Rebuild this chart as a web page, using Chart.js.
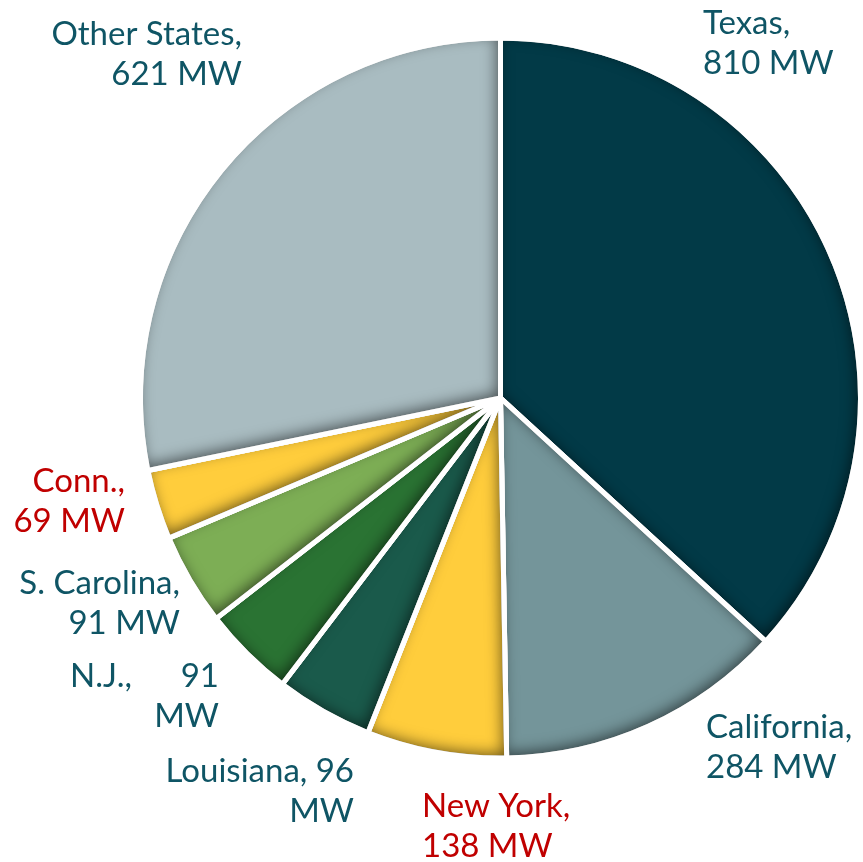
<!DOCTYPE html>
<html>
<head>
<meta charset="utf-8">
<script src="https://cdn.jsdelivr.net/npm/chart.js@4/dist/chart.umd.min.js"></script>
<style>
  html, body { margin: 0; padding: 0; background: #fff; }
  #wrap { width: 863px; height: 862px; }
</style>
</head>
<body>
<div id="wrap"><canvas id="pie" width="863" height="862"></canvas></div>
<script>
// capacity by state, clockwise from 12 o'clock
const STATES   = ['Texas', 'California', 'New York', 'Louisiana', 'N.J.', 'S. Carolina', 'Conn.', 'Other States'];
const MW       = [810, 284, 138, 96, 91, 91, 69, 621];
const COLORS   = ['#023a47', '#74959a', '#ffcd3c', '#1a5a4b', '#2a7333', '#7dae55', '#ffcd3c', '#a9bcc1'];
const LABEL_LINES = [
  ['Texas,', '810 MW'],
  ['California,', '284 MW'],
  ['New York,', '138 MW'],
  ['Louisiana, 96', 'MW'],
  ['91', 'MW'],
  ['S. Carolina,', '91 MW'],
  ['Conn.,', '69 MW'],
  ['Other States,', '621 MW'],
];
const LABEL_RED = ['New York', 'Conn.'];

// where each label sits (x, baseline of first line, alignment); N.J. has its name pushed left
const LABEL_LAYOUT = [
  { x: 703, y: 34,  align: 'left'  },
  { x: 706, y: 738, align: 'left'  },
  { x: 422, y: 817, align: 'left'  },
  { x: 354, y: 782, align: 'right' },
  { x: 219, y: 687, align: 'right', prefix: 'N.J.,', prefixX: 70 },
  { x: 180, y: 594, align: 'right' },
  { x: 125, y: 492, align: 'right' },
  { x: 242, y: 45,  align: 'right' },
];

const innerShadow = {
  id: 'innerShadow',
  afterDatasetsDraw(chart) {
    const ctx = chart.ctx;
    const meta = chart.getDatasetMeta(0);
    meta.data.forEach(arc => {
      const { x, y, startAngle, endAngle, outerRadius } = arc.getProps(['x', 'y', 'startAngle', 'endAngle', 'outerRadius'], true);
      ctx.save();
      ctx.beginPath();
      ctx.moveTo(x, y);
      ctx.arc(x, y, outerRadius, startAngle, endAngle);
      ctx.closePath();
      ctx.clip();
      ctx.beginPath();
      ctx.rect(-2000, -2000, 5000, 5000);
      ctx.moveTo(x, y);
      ctx.arc(x, y, outerRadius, startAngle, endAngle);
      ctx.closePath();
      ctx.shadowColor = 'rgba(0,0,0,0.6)';
      ctx.shadowBlur = 15;
      ctx.shadowOffsetX = -3;
      ctx.shadowOffsetY = -4;
      ctx.fillStyle = '#000';
      ctx.fill('evenodd');
      ctx.restore();

      ctx.save();
      ctx.beginPath();
      ctx.moveTo(x, y);
      ctx.arc(x, y, outerRadius, startAngle, endAngle);
      ctx.closePath();
      ctx.strokeStyle = '#fff';
      ctx.lineWidth = 5;
      ctx.lineJoin = 'round';
      ctx.stroke();
      ctx.restore();
    });
  },
};

const sliceLabels = {
  id: 'sliceLabels',
  afterDraw(chart) {
    const ctx = chart.ctx;
    ctx.save();
    ctx.font = '33px Lato, "Open Sans", sans-serif';
    ctx.textBaseline = 'alphabetic';
    LABEL_LINES.forEach((lines, i) => {
      const pos = LABEL_LAYOUT[i];
      ctx.fillStyle = LABEL_RED.includes(STATES[i]) ? '#c00000' : '#0f5565';
      if (pos.prefix) {
        ctx.textAlign = 'left';
        ctx.fillText(pos.prefix, pos.prefixX, pos.y);
      }
      ctx.textAlign = pos.align;
      lines.forEach((t, j) => ctx.fillText(t, pos.x, pos.y + j * 39.5));
    });
    ctx.restore();
  },
};

new Chart(document.getElementById('pie'), {
  type: 'pie',
  data: {
    labels: STATES,
    datasets: [{
      data: MW,
      backgroundColor: COLORS,
      borderColor: '#ffffff',
      borderWidth: 5,
    }],
  },
  options: {
    responsive: false,
    animation: false,
    layout: { padding: { left: 138, right: 0, top: 35, bottom: 101 } },
    plugins: {
      legend: { display: false },
      tooltip: { enabled: false },
    },
  },
  plugins: [innerShadow, sliceLabels],
});
</script>
</body>
</html>
